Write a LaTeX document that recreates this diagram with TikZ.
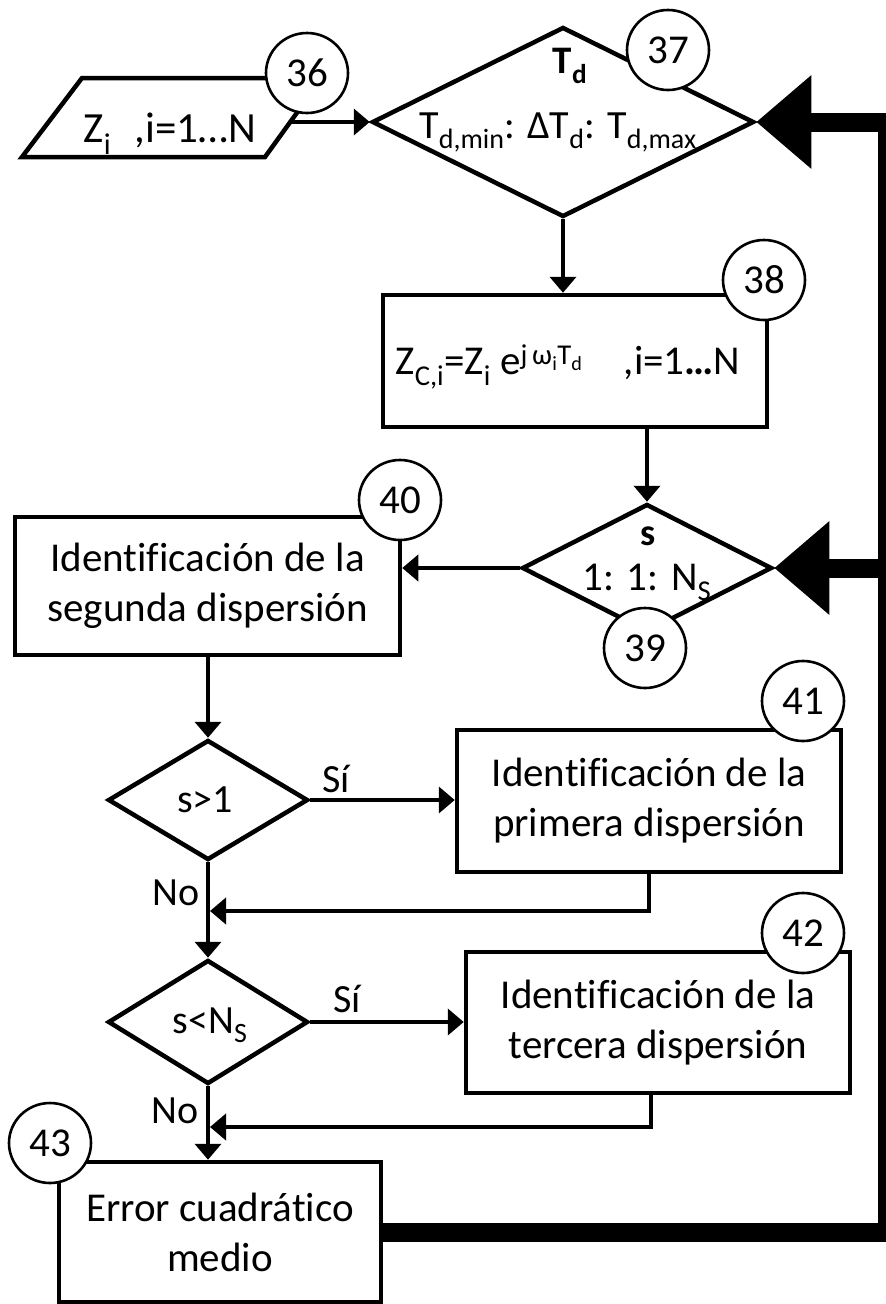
\documentclass[tikz,border=0pt]{standalone}
\usepackage{fontspec}
\setmainfont{Carlito}[Ligatures={NoCommon}]
\usetikzlibrary{arrows.meta,shapes.geometric}
\begin{document}
\begin{tikzpicture}[x=1pt,y=-1pt,
  box/.style={draw, line width=4.5pt, rectangle, inner sep=0pt, align=center, font=\fontsize{41}{50}\selectfont},
  num/.style={draw, line width=2.6pt, fill=white, ellipse, minimum width=82pt, minimum height=80pt, inner sep=0pt, font=\fontsize{41}{42}\selectfont},
  dia/.style={draw, line width=4.5pt, diamond, inner sep=0pt},
  arr/.style={line width=4.5pt, -{Triangle[length=16pt,width=26pt]}},
  big/.style={line width=19pt, -{Triangle[length=55pt,width=90pt]}},
  txt/.style={inner sep=0pt, anchor=base, font=\fontsize{40}{48}\selectfont},
  lbl/.style={inner sep=0pt, anchor=base, font=\fontsize{40}{44}\selectfont},
]
\useasboundingbox[fill=white] (0,0) rectangle (886,1304);

% input parallelogram
\coordinate (p1) at (22,157);
\coordinate (p2) at (82,78);
\coordinate (p3) at (322,78);
\coordinate (p4) at (265,157);
\coordinate (pr) at (291,122);
\draw[line width=4.5pt, line join=miter] (p1) -- (p2) -- (p3) -- (p4) -- cycle;
\node[txt, font=\fontsize{43}{48}\selectfont] (t36) at (170,142) {Z\textsubscript{i}\hspace{0.55em},i=1…N};

% diamond 37
\node[dia, minimum width=382pt, minimum height=190pt] (d37) at (563,122) {};
\node[txt, font=\fontsize{39}{44}\bfseries] (t37a) at (570,73) {T\textsubscript{d}};
\node[txt] (t37b) at (558,138) {T\textsubscript{d,min}: ΔT\textsubscript{d}: T\textsubscript{d,max}};

% box 38
\node[box, minimum width=384pt, minimum height=132pt] (b38) at (575,361) {};
\node[txt, font=\fontsize{41}{48}\selectfont] (t38) at (568,374) {Z\textsubscript{C,i}=Z\textsubscript{i} e\textsuperscript{j\,ω\textsubscript{i}T\textsubscript{d}}\quad ,i=1\textbf{…}N};

% diamond 39
\node[dia, minimum width=250pt, minimum height=128pt] (d39) at (647,568) {};
\node[txt, font=\fontsize{38}{44}\bfseries] (t39a) at (648,545) {s};
\node[txt, font=\fontsize{41}{48}\selectfont] (t39b) at (647,590) {1: 1: N\textsubscript{S}};

% box 40
\node[box, minimum width=385pt, minimum height=138pt] (b40) at (207.5,586) {Identificación de la\\segunda dispersión};

% decision s>1
\node[dia, minimum width=200pt, minimum height=120pt] (ds1) at (208,800) {};
\node[txt, font=\fontsize{40}{44}\selectfont] (ts1) at (205,812) {s>1};

% box 41
\node[box, minimum width=384pt, minimum height=142pt] (b41) at (649,801) {Identificación de la\\primera dispersión};

% decision s<Ns
\node[dia, minimum width=200pt, minimum height=124pt] (dsN) at (208,1022) {};
\node[txt, font=\fontsize{40}{44}\selectfont] (tsN) at (210,1033) {s<N\textsubscript{S}};

% box 42
\node[box, minimum width=384pt, minimum height=141pt] (b42) at (658,1022.5) {Identificación de la\\tercera dispersión};

% box 43
\node[box, minimum width=322pt, minimum height=140pt] (b43) at (220,1232) {Error cuadrático\\medio};

% connectors
\draw[arr] (pr) -- (d37.west);
\draw[arr] (d37.south) -- (d37.south |- b38.north);
\draw[arr] (b38.south -| d39.north) -- (d39.north);
\draw[arr] (d39.west) -- (d39.west -| b40.east);
\draw[arr] (b40.south -| ds1.north) -- (ds1.north);
\draw[arr] (ds1.east) -- (ds1.east -| b41.west);
\node[lbl] (si1) at (336,792) {Sí};
\draw[arr] (ds1.south) -- (dsN.north);
\node[lbl] (no1) at (176,905) {No};
\coordinate (j41) at (649,911);
\draw[arr, shorten >=2pt] (b41.south) -- (j41) -- (j41 -| ds1.south);
\draw[arr] (dsN.east) -- (dsN.east -| b42.west);
\node[lbl] (si2) at (347,1012) {Sí};
\draw[arr] (dsN.south) -- (dsN.south |- b43.north);
\node[lbl] (no2) at (175,1123) {No};
\coordinate (j42) at (651,1127);
\draw[arr, shorten >=2pt] (b42.south -| j42) -- (j42) -- (j42 -| dsN.south);

% thick feedback
\coordinate (br) at (887,1232);
\coordinate (tr) at (887,122);
\coordinate (mr) at (887,568);
\draw[big, line join=miter] (b43.east) -- (br) -- (tr) -- (d37.east);
\draw[big] (mr) -- (d39.east);

% number circles
\node[num] (c36) at (307,73) {36};
\node[num] (c37) at (668,50) {37};
\node[num] (c38) at (764,280) {38};
\node[num] (c39) at (645,648) {39};
\node[num] (c40) at (400,500) {40};
\node[num] (c41) at (803,701) {41};
\node[num] (c42) at (803,933) {42};
\node[num] (c43) at (50,1143) {43};
\end{tikzpicture}
\end{document}
